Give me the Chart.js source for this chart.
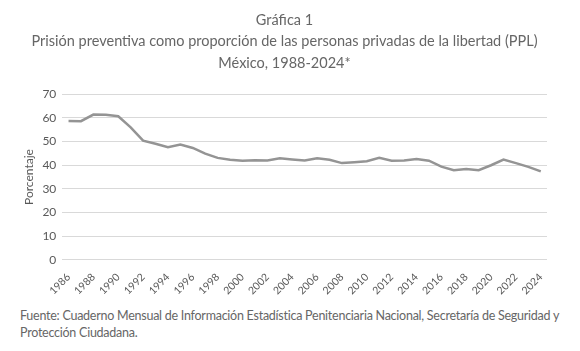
<!DOCTYPE html>
<html>
<head>
<meta charset="utf-8">
<script src="https://cdn.jsdelivr.net/npm/chart.js@4"></script>
<style>
  body { margin: 0; background: #fff; font-family: Lato, sans-serif; }
  #wrap { position: relative; width: 580px; height: 300px; }
  #fuente { position: absolute; left: 20px; top: 307px; width: 550px; font-size: 12.5px; letter-spacing: -0.25px; line-height: 17px; color: #666; }
</style>
</head>
<body>
<div id="wrap"><canvas id="lineChart"></canvas></div>
<div id="fuente">Fuente: Cuaderno Mensual de Información Estadística Penitenciaria Nacional, Secretaría de Seguridad y Protección Ciudadana.</div>
<script>
// years on the x axis
var years = [];
for (var y = 1986; y <= 2024; y++) years.push(String(y));

// porcentaje en prision preventiva
var porcentaje = [58.7, 58.6, 61.4, 61.3, 60.7, 56.0, 50.4, 49.1, 47.6, 48.7,
                  47.3, 44.9, 43.1, 42.3, 41.9, 42.1, 42.0, 42.9, 42.4, 42.0,
                  42.9, 42.3, 40.9, 41.3, 41.7, 43.1, 41.9, 42.0, 42.6, 41.9,
                  39.4, 37.9, 38.4, 37.9, 40.0, 42.4, 40.9, 39.3, 37.4];

var titleLines = ['Gráfica 1',
  'Prisión preventiva como proporción de las personas privadas de la libertad (PPL)',
  'México, 1988-2024*'];

var ctx = document.getElementById('lineChart').getContext('2d');
var chart = new Chart(ctx, {
    type: 'line',
    data: {
        labels: years,
        datasets: [{
            label: 'Porcentaje',
            data: porcentaje,
            borderColor: '#949494',
            borderWidth: 2.5,
            pointRadius: 0,
            tension: 0,
            fill: false
        }]
    },
    options: {
        responsive: true,
        maintainAspectRatio: false,
        animation: false,
        layout: { padding: { left: 22, right: 33, top: 9, bottom: 0 } },
        plugins: {
            legend: { display: false },
            tooltip: { enabled: false },
            title: {
                display: true,
                text: titleLines,
                color: '#666',
                font: { family: 'Lato', size: 14.5, weight: 'normal', lineHeight: 1.5 },
                padding: { top: 0, bottom: 20 }
            }
        },
        scales: {
            x: {
                offset: true,
                grid: { display: false },
                border: { display: false },
                ticks: {
                    autoSkip: false,
                    minRotation: 45,
                    maxRotation: 45,
                    color: '#595959',
                    font: { family: 'Lato', size: 10.5 },
                    callback: function(val, i) { return i % 2 === 0 ? years[i] : ''; }
                }
            },
            y: {
                min: 0,
                max: 70,
                grid: { color: '#d9d9d9', lineWidth: 1, drawTicks: false },
                border: { display: false },
                ticks: {
                    stepSize: 10,
                    padding: 6,
                    color: '#595959',
                    font: { family: 'Lato', size: 12 }
                },
                title: {
                    display: true,
                    text: 'Porcentaje',
                    color: '#595959',
                    font: { family: 'Lato', size: 12 },
                    padding: { top: 0, bottom: 0 }
                }
            }
        }
    }
});
</script>
</body>
</html>
